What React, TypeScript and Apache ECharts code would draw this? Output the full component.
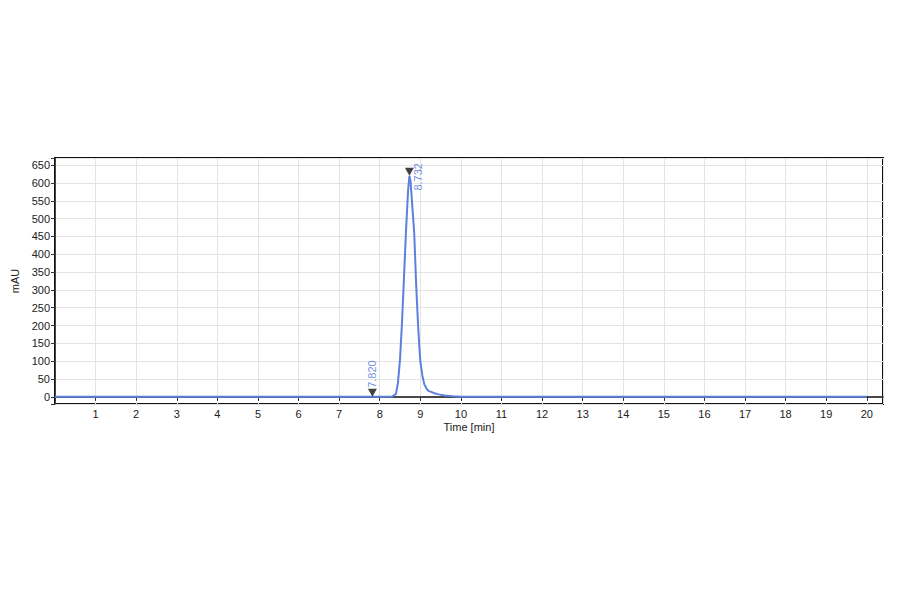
import React, { useRef, useEffect } from 'react'
import * as echarts from 'echarts'

// 色谱图数据 (时间 min / 吸光度 mAU)
const times = [
  0, 7.82, 8.3, 8.4, 8.45, 8.5, 8.55, 8.6, 8.65, 8.7, 8.732, 8.76, 8.8, 8.85, 8.9,
  8.95, 9.0, 9.05, 9.1, 9.15, 9.2, 9.33, 9.45, 9.6, 9.8, 10.0, 20.0,
]
const absorbance = [
  0, 0, 0.5, 8, 40, 105, 210, 340, 470, 580, 620, 605, 540, 460, 310,
  190, 100, 60, 35, 24, 17, 11, 7, 4, 2, 0.5, 0,
]

// 峰标记
const peakTimes = [7.82, 8.732]
const peakHeights = [0, 620]
const peakLabels = ['7.820', '8.732']

const LINE_COLOR = '#5c80dc'
const LABEL_COLOR = '#4a6fd6'
const FONT = 'Liberation Sans, Arial, sans-serif'

const App: React.FC = () => {
  const chartRef = useRef<HTMLDivElement>(null)

  useEffect(() => {
    if (!chartRef.current) return
    const chart = echarts.init(chartRef.current, undefined, { renderer: 'svg' })

    const markerData = peakTimes.map((t, i) => {
      const label =
        i === 0
          ? {
              show: true,
              formatter: peakLabels[i],
              rotate: 90,
              position: 'top',
              align: 'left',
              verticalAlign: 'middle',
              distance: 1,
            }
          : {
              show: true,
              formatter: peakLabels[i],
              rotate: 90,
              position: 'inside',
              align: 'center',
              verticalAlign: 'middle',
              offset: [-5, 9],
            }
      return { value: [t, peakHeights[i]], label }
    })

    chart.setOption({
      animation: false,
      textStyle: { fontFamily: FONT },
      grid: {
        left: 55,
        right: 17,
        top: 158,
        bottom: 190,
        show: true,
        borderColor: '#111',
        borderWidth: 2,
      },
      xAxis: {
        type: 'value',
        min: 0,
        max: 20.4,
        interval: 1,
        name: 'Time [min]',
        nameLocation: 'middle',
        nameGap: 17,
        nameTextStyle: { color: '#222', fontSize: 11, fontFamily: FONT },
        axisLine: { show: true, lineStyle: { color: '#111', width: 1.5 } },
        axisTick: { show: true, length: 4, lineStyle: { color: '#333' } },
        axisLabel: {
          color: '#222',
          fontSize: 11,
          fontFamily: FONT,
          margin: 4,
          showMaxLabel: false,
          formatter: (v: number) => (v > 0 && Number.isInteger(v) ? String(v) : ''),
        },
        splitLine: { show: true, lineStyle: { color: '#e4e4e4', width: 1 } },
      },
      yAxis: {
        type: 'value',
        min: -20,
        max: 670,
        minInterval: 50,
        maxInterval: 50,
        name: 'mAU',
        nameLocation: 'middle',
        nameGap: 32,
        nameTextStyle: { color: '#222', fontSize: 11, fontFamily: FONT },
        axisLine: { show: true, lineStyle: { color: '#111', width: 1.5 } },
        axisTick: { show: true, length: 4, lineStyle: { color: '#333' } },
        axisLabel: {
          color: '#222',
          fontSize: 11,
          fontFamily: FONT,
          margin: 5,
          formatter: (v: number) => (v % 50 === 0 ? String(v) : ''),
        },
        splitLine: { show: true, lineStyle: { color: '#e4e4e4', width: 1 } },
      },
      series: [
        {
          type: 'line',
          data: times.map((t, i) => [t, absorbance[i]]),
          showSymbol: false,
          symbol: 'none',
          lineStyle: { color: LINE_COLOR, width: 2 },
          z: 2,
        },
        {
          type: 'scatter',
          data: markerData,
          symbol: 'triangle',
          symbolRotate: 180,
          symbolSize: [9, 8],
          symbolOffset: [0, -4],
          itemStyle: { color: '#111' },
          label: { color: LABEL_COLOR, fontSize: 11, fontFamily: FONT },
          z: 3,
        },
      ],
    })

    return () => {
      chart.dispose()
    }
  }, [])

  return (
    <div
      ref={chartRef}
      style={{ position: 'absolute', left: 0, top: 0, width: 900, height: 594, background: '#fff' }}
    />
  )
}

export default App
